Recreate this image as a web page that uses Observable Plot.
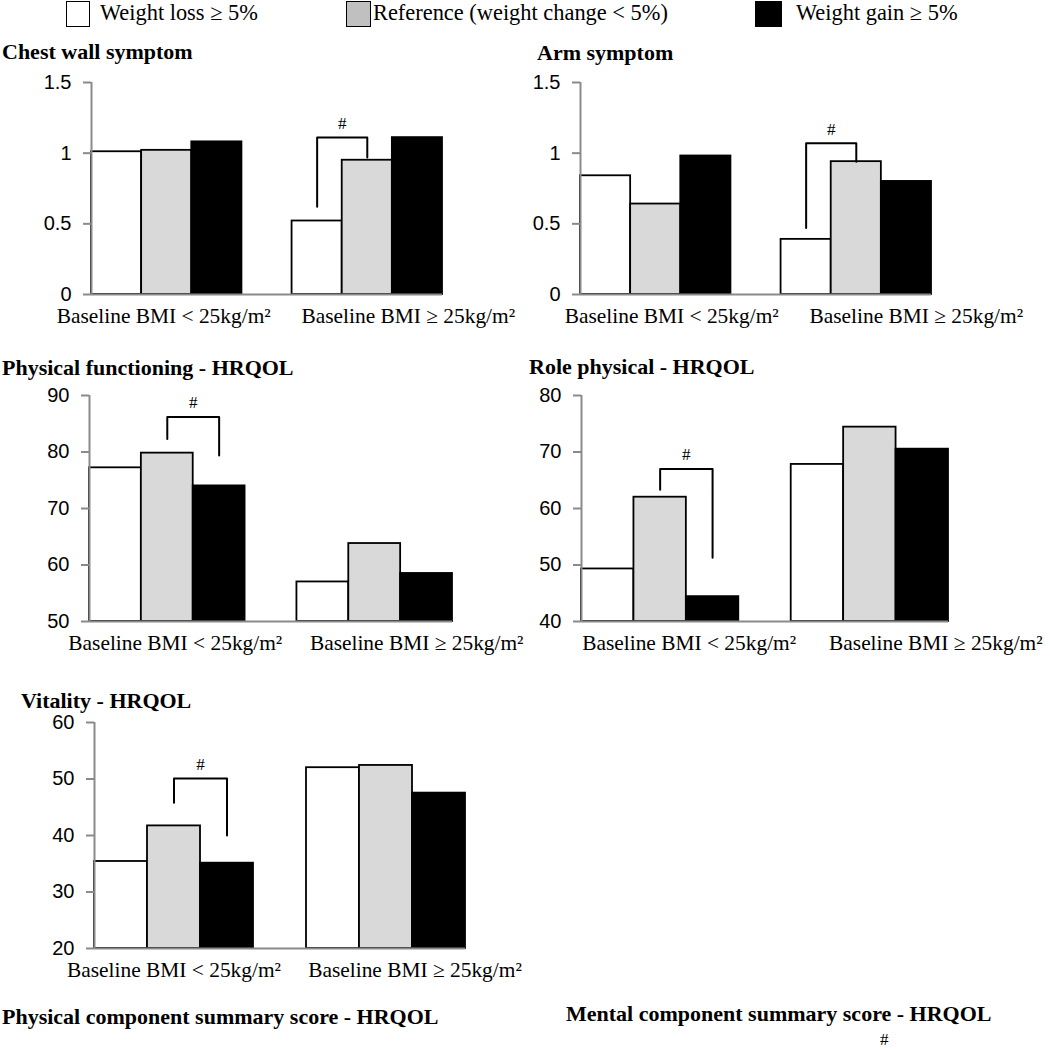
<!DOCTYPE html>
<html><head><meta charset="utf-8">
<script src="https://cdn.jsdelivr.net/npm/d3@7"></script>
<script src="https://cdn.jsdelivr.net/npm/@observablehq/plot@0.6"></script>
<style>
body{margin:0;background:#fff;}
#root{position:relative;width:1050px;height:1049px;overflow:hidden;background:#fff;font-family:"Liberation Serif","Times New Roman",serif;color:#000;}
.abs{position:absolute;white-space:nowrap;}
.title{font-weight:bold;font-size:22px;line-height:22px;}
.leg{font-size:22.4px;line-height:22px;}
.box{position:absolute;border:1.5px solid #000;box-sizing:border-box;}
</style></head><body><div id="root"></div>
<script>
// ---------- data ----------
const groups = ["Baseline BMI < 25kg/m²", "Baseline BMI ≥ 25kg/m²"];
const series = ["Weight loss ≥ 5%", "Reference (weight change < 5%)", "Weight gain ≥ 5%"];
const seriesColors = ["#ffffff", "#d9d9d9", "#000000"];
const legendColors = ["#ffffff", "#c0c0c0", "#000000"];

const panelTitles = ["Chest wall symptom", "Arm symptom", "Physical functioning - HRQOL", "Role physical - HRQOL", "Vitality - HRQOL"];
const bottomTitles = ["Physical component summary score - HRQOL", "Mental component summary score - HRQOL"];

// values [group][series]
const chestWall = [[1.01, 1.02, 1.08], [0.52, 0.95, 1.11]];
const arm       = [[0.84, 0.64, 0.98], [0.39, 0.94, 0.80]];
const physFunc  = [[77.2, 79.8, 74.0], [57.0, 63.8, 58.5]];
const rolePhys  = [[49.3, 62.0, 44.4], [67.8, 74.4, 70.5]];
const vitality  = [[35.4, 41.7, 35.1], [52.0, 52.4, 47.5]];
const panelValues = [chestWall, arm, physFunc, rolePhys, vitality];

const yTicks = [[0, 0.5, 1, 1.5], [0, 0.5, 1, 1.5], [50, 60, 70, 80, 90], [40, 50, 60, 70, 80], [20, 30, 40, 50, 60]];

// significance brackets (#): group, from series, to series, top level, left end, right end
const brackets = [
  {group: 1, from: 0, to: 1, top: 1.11, leftEnd: 0.62, rightEnd: 0.97},
  {group: 1, from: 0, to: 1, top: 1.07, leftEnd: 0.47, rightEnd: 0.94},
  {group: 0, from: 1, to: 2, top: 86.2, leftEnd: 82.3, rightEnd: 79.4},
  {group: 0, from: 1, to: 2, top: 67.0, leftEnd: 63.3, rightEnd: 51.3},
  {group: 0, from: 1, to: 2, top: 50.1, leftEnd: 45.8, rightEnd: 40.0}
];

// ---------- layout (page pixels) ----------
const layout = [
  {left: 0,   x0: 91,  x1: 442, yTop: 82,  yBot: 294, titleX: 2,   titleY: 52,  labelDx: [-3, 41]},
  {left: 520, x0: 580, x1: 931, yTop: 82,  yBot: 294, titleX: 537, titleY: 53,  labelDx: [16, 60]},
  {left: 0,   x0: 89,  x1: 452, yTop: 395, yBot: 621, titleX: 2,   titleY: 368, labelDx: [8, 42]},
  {left: 520, x0: 581, x1: 948, yTop: 395, yBot: 621, titleX: 529, titleY: 367, labelDx: [29, 66]},
  {left: 0,   x0: 94,  x1: 465, yTop: 722, yBot: 948, titleX: 21,  titleY: 701, labelDx: [0, 29]}
];
const bottomTitlePos = [{x: 2, y: 1017}, {x: 566, y: 1014}];
const bottomHash = {x: 880, y: 1040};
const legendPos = [{bx: 66, bw: 24, tx: 100}, {bx: 346, bw: 25, tx: 373}, {bx: 755, bw: 27, tx: 796}];

const root = document.getElementById("root");
function addText(txt, x, yc, cls) {
  const d = document.createElement("div");
  d.className = "abs " + cls;
  d.textContent = txt;
  d.style.left = x + "px";
  root.appendChild(d);
  d.style.top = (yc - d.offsetHeight / 2) + "px";
  return d;
}

// legend
series.forEach((s, i) => {
  const b = document.createElement("div");
  b.className = "box";
  b.style.left = legendPos[i].bx + "px";
  b.style.top = "1px";
  b.style.width = legendPos[i].bw + "px";
  b.style.height = "26px";
  b.style.background = legendColors[i];
  root.appendChild(b);
  addText(s, legendPos[i].tx, 13, "leg");
});

const slotOf = (g, s) => g * 4 + s; // 3 bars per group plus one empty slot between groups
const PW = 530;

panelValues.forEach((vals, p) => {
  const L = layout[p];
  const ticks = yTicks[p];
  const ymin = ticks[0], ymax = ticks[ticks.length - 1];
  const rows = [];
  vals.forEach((arr, g) => arr.forEach((v, s) => rows.push({group: groups[g], series: series[s], slot: slotOf(g, s), value: v})));
  const br = brackets[p];
  const xl = slotOf(br.group, br.from) + 0.5, xr = slotOf(br.group, br.to) + 0.5;
  const brPts = [{x: xl, y: br.leftEnd}, {x: xl, y: br.top}, {x: xr, y: br.top}, {x: xr, y: br.rightEnd}];
  const mT = 30, mB = 45;
  const chart = Plot.plot({
    width: PW,
    height: (L.yBot - L.yTop) + mT + mB,
    marginLeft: L.x0 - L.left,
    marginRight: PW - (L.x1 - L.left),
    marginTop: mT,
    marginBottom: mB,
    x: {domain: [0, 7], axis: null},
    y: {domain: [ymin, ymax], axis: null},
    color: {domain: series, range: seriesColors},
    style: {fontFamily: "Liberation Sans, Arial, sans-serif", background: "transparent", overflow: "visible"},
    marks: [
      Plot.rectY(rows, {x1: d => d.slot, x2: d => d.slot + 1, y1: ymin, y2: "value", fill: "series", stroke: "#000", strokeWidth: 1.8}),
      Plot.axisY({ticks, tickFormat: d => String(d), tickSize: 8, tickPadding: 12, fontSize: 20, stroke: "#8a8a8a", strokeWidth: 2, fill: "#000", label: null}),
      Plot.ruleX([0], {y1: ymin, y2: ymax, stroke: "#8a8a8a", strokeWidth: 2}),
      Plot.ruleY([ymin], {x1: 0, x2: 7, stroke: "#8a8a8a", strokeWidth: 2}),
      Plot.line(brPts, {x: "x", y: "y", stroke: "#000", strokeWidth: 2}),
      Plot.text([br], {x: () => (xl + xr) / 2, y: "top", text: () => "#", dy: -14, fontFamily: "Liberation Serif", fontSize: 17}),
      ...groups.map((gname, g) => Plot.text([gname], {
        x: () => slotOf(g, 1) + 0.5, y: () => ymin, text: d => d,
        dy: 22, dx: L.labelDx[g], fontFamily: "Liberation Serif", fontSize: 21.4, fill: "#000"
      }))
    ]
  });
  const wrap = document.createElement("div");
  wrap.className = "abs";
  wrap.style.left = L.left + "px";
  wrap.style.top = (L.yTop - mT) + "px";
  wrap.style.width = PW + "px";
  wrap.appendChild(chart);
  root.appendChild(wrap);
  addText(panelTitles[p], L.titleX, L.titleY, "title");
});

bottomTitles.forEach((t, i) => addText(t, bottomTitlePos[i].x, bottomTitlePos[i].y, "title"));
const h = addText("#", bottomHash.x, bottomHash.y, "leg");
h.style.fontSize = "17px";
</script>
</body></html>
